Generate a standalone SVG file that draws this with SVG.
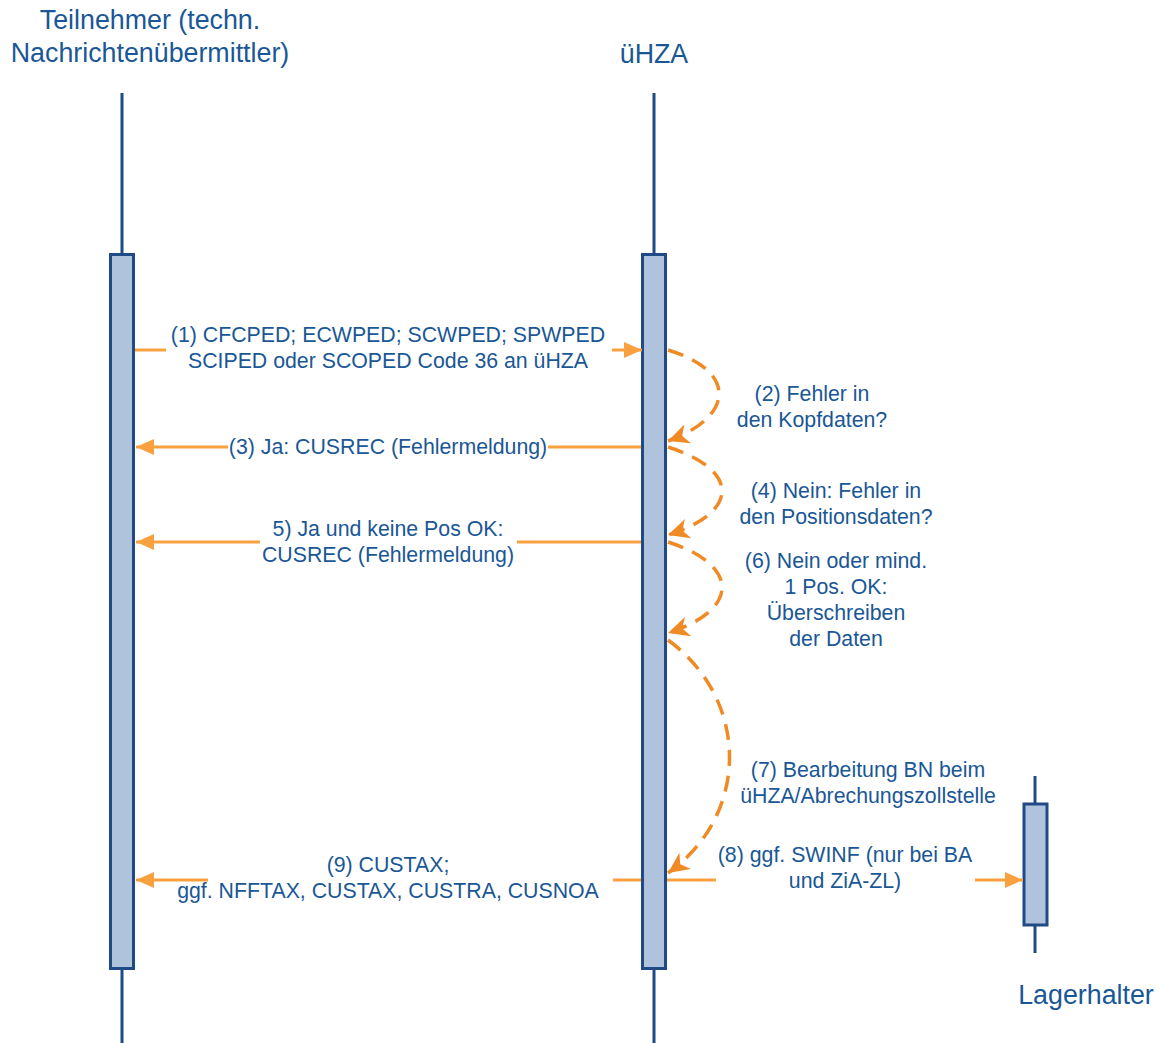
<svg xmlns="http://www.w3.org/2000/svg" width="1159" height="1043" viewBox="0 0 1159 1043">
<defs>
<style>
.life{stroke:#1F4A85;stroke-width:3;fill:none}
.box{fill:#B0C3DC;stroke:#1F4A85;stroke-width:3}
.t{font-family:"Liberation Sans",Arial,sans-serif;fill:#1A5796;text-anchor:middle}
.title{font-size:26.8px}
.msg{font-size:21.3px}
.ln{stroke:#F9A03F;stroke-width:3;fill:none}
.dash{stroke:#F08A24;stroke-width:3.5;fill:none;stroke-dasharray:16 10}
</style>
<marker id="ah" markerUnits="userSpaceOnUse" markerWidth="20" markerHeight="18" refX="18" refY="9" orient="auto">
<path d="M0,1 L18,9 L0,17 Z" fill="#F9A03F"/>
</marker>
<marker id="ahc" markerUnits="userSpaceOnUse" markerWidth="24" markerHeight="22" refX="21" refY="11" orient="auto">
<path d="M0,1 L21,11 L0,21 L6,11 Z" fill="#F08A24"/>
</marker>
</defs>
<rect width="1159" height="1043" fill="#fff"/>

<g id="teilnehmer">
<text class="t title" x="150" y="29">Teilnehmer (techn.</text>
<text class="t title" x="150" y="62">Nachrichtenübermittler)</text>
<line class="life" x1="122" y1="93" x2="122" y2="1043"/>
<rect class="box" x="110.5" y="254.5" width="23" height="714"/>
</g>

<g id="uhza">
<text class="t title" x="654" y="63">üHZA</text>
<line class="life" x1="654" y1="93" x2="654" y2="1043"/>
<rect class="box" x="642.5" y="254.5" width="23" height="714"/>
</g>

<g id="lagerhalter">
<text class="t title" x="1086" y="1004">Lagerhalter</text>
<line class="life" x1="1035" y1="776" x2="1035" y2="953"/>
<rect class="box" x="1024" y="804" width="23" height="121"/>
</g>

<g id="connectors">
<line class="ln" x1="135" y1="350" x2="166" y2="350"/>
<line class="ln" x1="612" y1="350" x2="642" y2="350" marker-end="url(#ah)"/>
<line class="ln" x1="228" y1="447" x2="136" y2="447" marker-end="url(#ah)"/>
<line class="ln" x1="548" y1="447" x2="641" y2="447"/>
<line class="ln" x1="260" y1="542" x2="136" y2="542" marker-end="url(#ah)"/>
<line class="ln" x1="517" y1="542" x2="641" y2="542"/>
<line class="ln" x1="208" y1="880" x2="136" y2="880" marker-end="url(#ah)"/>
<line class="ln" x1="613" y1="880" x2="641" y2="880"/>
<line class="ln" x1="667" y1="880" x2="716" y2="880"/>
<line class="ln" x1="975" y1="880" x2="1023" y2="880" marker-end="url(#ah)"/>
<path class="dash" d="M668,350 C740,372 732,418 668,441" marker-end="url(#ahc)"/>
<path class="dash" d="M668,447 C740,470 740,512 668,535" marker-end="url(#ahc)"/>
<path class="dash" d="M668,542 C740,565 740,610 668,633" marker-end="url(#ahc)"/>
<path class="dash" d="M668,640 C750,700 750,815 668,873" marker-end="url(#ahc)"/>
</g>

<g id="labels">
<text class="t msg" x="388" y="342">(1) CFCPED; ECWPED; SCWPED; SPWPED</text>
<text class="t msg" x="388" y="368">SCIPED oder SCOPED Code 36 an üHZA</text>
<text class="t msg" x="812" y="401">(2) Fehler in</text>
<text class="t msg" x="812" y="427">den Kopfdaten?</text>
<text class="t msg" x="388" y="454">(3) Ja: CUSREC (Fehlermeldung)</text>
<text class="t msg" x="836" y="498">(4) Nein: Fehler in</text>
<text class="t msg" x="836" y="524">den Positionsdaten?</text>
<text class="t msg" x="388" y="536">5) Ja und keine Pos OK:</text>
<text class="t msg" x="388" y="562">CUSREC (Fehlermeldung)</text>
<text class="t msg" x="836" y="568">(6) Nein oder mind.</text>
<text class="t msg" x="836" y="594">1 Pos. OK:</text>
<text class="t msg" x="836" y="620">Überschreiben</text>
<text class="t msg" x="836" y="646">der Daten</text>
<text class="t msg" x="868" y="777">(7) Bearbeitung BN beim</text>
<text class="t msg" x="868" y="803">üHZA/Abrechungszollstelle</text>
<text class="t msg" x="845" y="862">(8) ggf. SWINF (nur bei BA</text>
<text class="t msg" x="845" y="888">und ZiA-ZL)</text>
<text class="t msg" x="388" y="872">(9) CUSTAX;</text>
<text class="t msg" x="388" y="898">ggf. NFFTAX, CUSTAX, CUSTRA, CUSNOA</text>
</g>
</svg>
